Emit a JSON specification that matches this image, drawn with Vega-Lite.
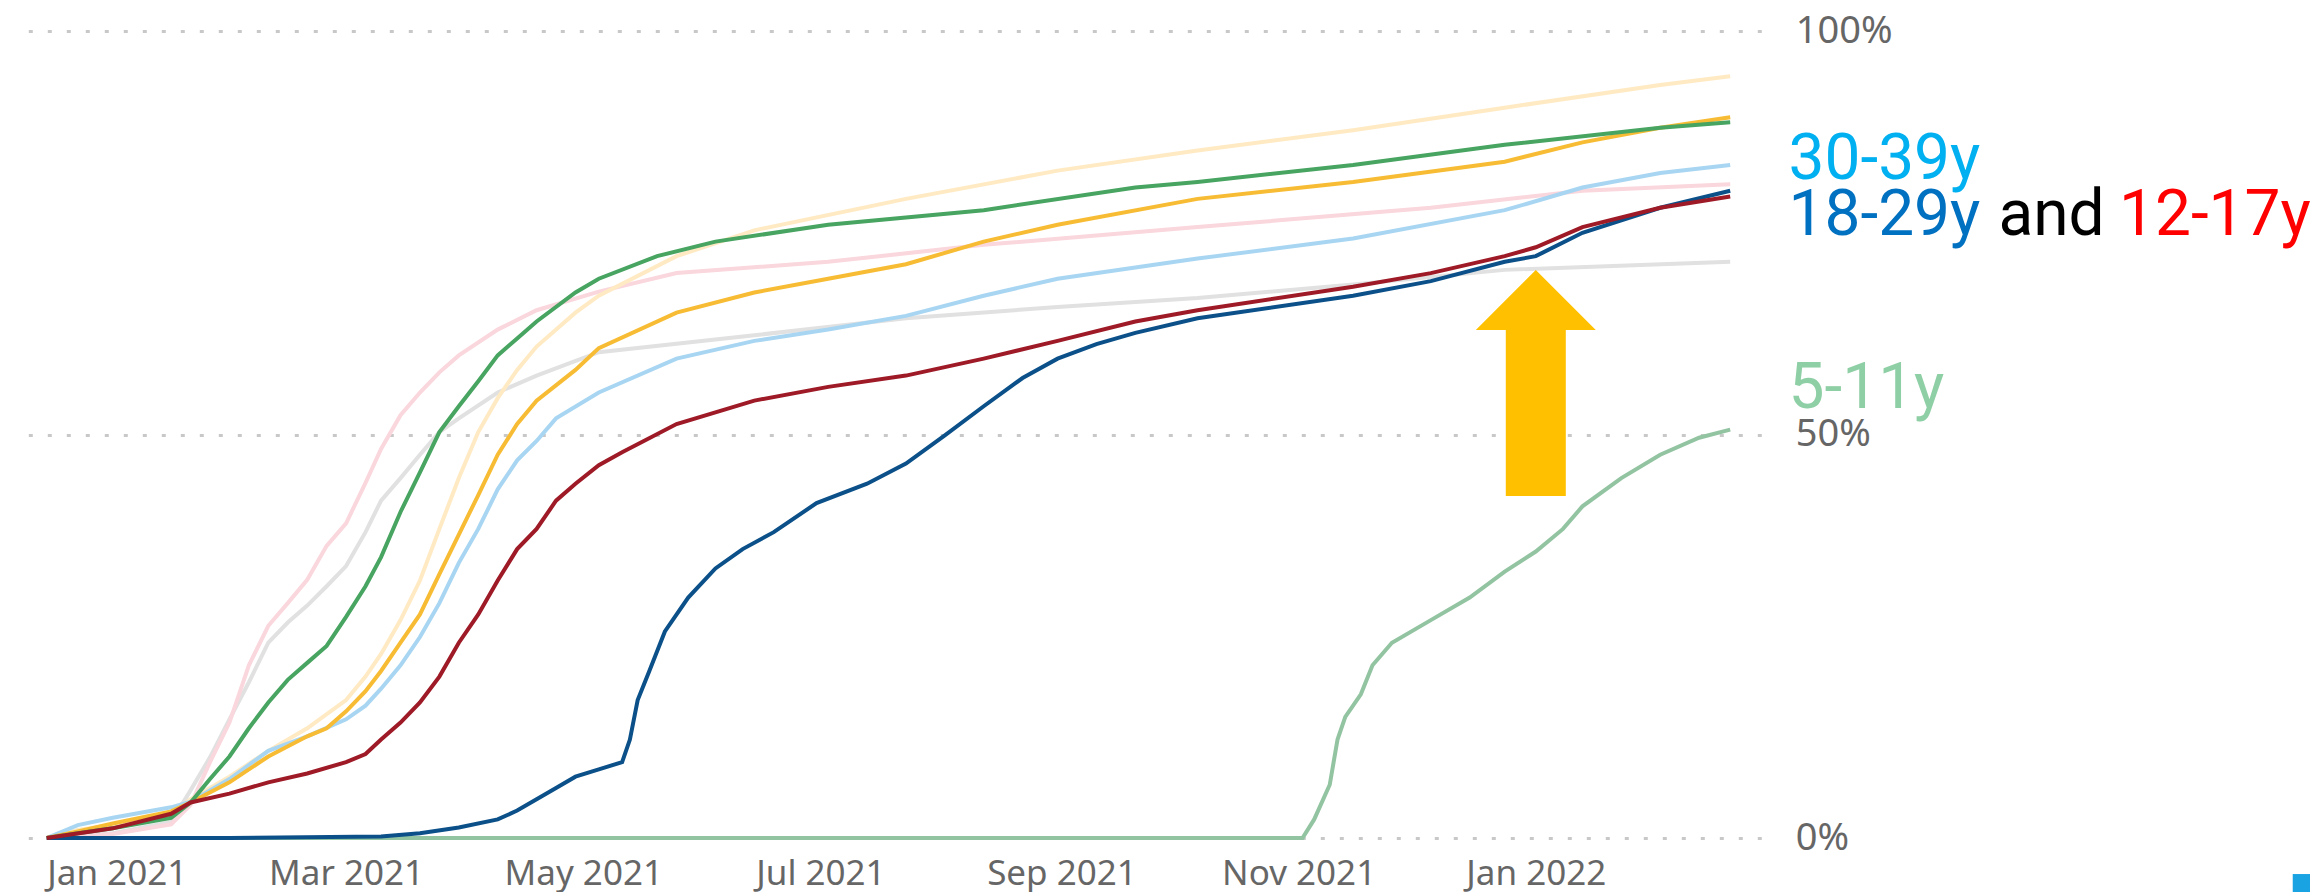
{
  "$schema": "https://vega.github.io/schema/vega-lite/v6.json",
  "autosize": {"type": "none"},
  "width": 1745.7,
  "height": 807,
  "padding": {"left": 15.6, "top": 31, "right": 548.7, "bottom": 54},
  "background": "white",
  "config": {"view": {"stroke": null}, "font": "Noto Sans"},
  "resolve": {"scale": {"color": "independent"}},
  "layer": [
    {
      "data": {"values": [
        {"group": "5-11y", "date": "2020-12-14", "share": 0},
        {"group": "5-11y", "date": "2021-11-02", "share": 0},
        {"group": "5-11y", "date": "2021-11-05", "share": 0.023},
        {"group": "5-11y", "date": "2021-11-09", "share": 0.066},
        {"group": "5-11y", "date": "2021-11-11", "share": 0.122},
        {"group": "5-11y", "date": "2021-11-13", "share": 0.15},
        {"group": "5-11y", "date": "2021-11-17", "share": 0.178},
        {"group": "5-11y", "date": "2021-11-20", "share": 0.214},
        {"group": "5-11y", "date": "2021-11-25", "share": 0.242},
        {"group": "5-11y", "date": "2021-12-05", "share": 0.27},
        {"group": "5-11y", "date": "2021-12-15", "share": 0.298},
        {"group": "5-11y", "date": "2021-12-24", "share": 0.33},
        {"group": "5-11y", "date": "2022-01-01", "share": 0.355},
        {"group": "5-11y", "date": "2022-01-08", "share": 0.383},
        {"group": "5-11y", "date": "2022-01-13", "share": 0.411},
        {"group": "5-11y", "date": "2022-01-23", "share": 0.446},
        {"group": "5-11y", "date": "2022-02-02", "share": 0.475},
        {"group": "5-11y", "date": "2022-02-12", "share": 0.496},
        {"group": "5-11y", "date": "2022-02-20", "share": 0.506},

        {"group": "85+y", "date": "2020-12-14", "share": 0},
        {"group": "85+y", "date": "2020-12-31", "share": 0.006},
        {"group": "85+y", "date": "2021-01-15", "share": 0.02},
        {"group": "85+y", "date": "2021-01-20", "share": 0.059},
        {"group": "85+y", "date": "2021-01-25", "share": 0.1},
        {"group": "85+y", "date": "2021-01-30", "share": 0.147},
        {"group": "85+y", "date": "2021-02-04", "share": 0.193},
        {"group": "85+y", "date": "2021-02-09", "share": 0.242},
        {"group": "85+y", "date": "2021-02-14", "share": 0.267},
        {"group": "85+y", "date": "2021-02-19", "share": 0.288},
        {"group": "85+y", "date": "2021-02-24", "share": 0.312},
        {"group": "85+y", "date": "2021-03-01", "share": 0.337},
        {"group": "85+y", "date": "2021-03-06", "share": 0.379},
        {"group": "85+y", "date": "2021-03-10", "share": 0.418},
        {"group": "85+y", "date": "2021-03-15", "share": 0.446},
        {"group": "85+y", "date": "2021-03-20", "share": 0.475},
        {"group": "85+y", "date": "2021-03-25", "share": 0.503},
        {"group": "85+y", "date": "2021-03-30", "share": 0.52},
        {"group": "85+y", "date": "2021-04-09", "share": 0.552},
        {"group": "85+y", "date": "2021-04-19", "share": 0.573},
        {"group": "85+y", "date": "2021-05-05", "share": 0.602},
        {"group": "85+y", "date": "2021-06-14", "share": 0.623},
        {"group": "85+y", "date": "2021-07-23", "share": 0.644},
        {"group": "85+y", "date": "2021-08-31", "share": 0.658},
        {"group": "85+y", "date": "2021-10-06", "share": 0.669},
        {"group": "85+y", "date": "2021-11-15", "share": 0.686},
        {"group": "85+y", "date": "2021-12-24", "share": 0.704},
        {"group": "85+y", "date": "2022-02-20", "share": 0.714},

        {"group": "75-84y", "date": "2020-12-14", "share": 0},
        {"group": "75-84y", "date": "2020-12-31", "share": 0.005},
        {"group": "75-84y", "date": "2021-01-15", "share": 0.017},
        {"group": "75-84y", "date": "2021-01-20", "share": 0.041},
        {"group": "75-84y", "date": "2021-01-25", "share": 0.094},
        {"group": "75-84y", "date": "2021-01-30", "share": 0.143},
        {"group": "75-84y", "date": "2021-02-04", "share": 0.214},
        {"group": "75-84y", "date": "2021-02-09", "share": 0.263},
        {"group": "75-84y", "date": "2021-02-14", "share": 0.291},
        {"group": "75-84y", "date": "2021-02-19", "share": 0.32},
        {"group": "75-84y", "date": "2021-02-24", "share": 0.362},
        {"group": "75-84y", "date": "2021-03-01", "share": 0.39},
        {"group": "75-84y", "date": "2021-03-06", "share": 0.44},
        {"group": "75-84y", "date": "2021-03-10", "share": 0.482},
        {"group": "75-84y", "date": "2021-03-15", "share": 0.524},
        {"group": "75-84y", "date": "2021-03-20", "share": 0.552},
        {"group": "75-84y", "date": "2021-03-25", "share": 0.577},
        {"group": "75-84y", "date": "2021-03-30", "share": 0.598},
        {"group": "75-84y", "date": "2021-04-09", "share": 0.63},
        {"group": "75-84y", "date": "2021-04-19", "share": 0.654},
        {"group": "75-84y", "date": "2021-05-05", "share": 0.677},
        {"group": "75-84y", "date": "2021-05-25", "share": 0.7},
        {"group": "75-84y", "date": "2021-07-03", "share": 0.714},
        {"group": "75-84y", "date": "2021-08-12", "share": 0.735},
        {"group": "75-84y", "date": "2021-10-06", "share": 0.757},
        {"group": "75-84y", "date": "2021-12-05", "share": 0.781},
        {"group": "75-84y", "date": "2022-01-13", "share": 0.802},
        {"group": "75-84y", "date": "2022-02-20", "share": 0.81},

        {"group": "65-74y", "date": "2020-12-14", "share": 0},
        {"group": "65-74y", "date": "2020-12-22", "share": 0.01},
        {"group": "65-74y", "date": "2020-12-31", "share": 0.016},
        {"group": "65-74y", "date": "2021-01-15", "share": 0.03},
        {"group": "65-74y", "date": "2021-01-20", "share": 0.048},
        {"group": "65-74y", "date": "2021-01-30", "share": 0.076},
        {"group": "65-74y", "date": "2021-02-09", "share": 0.108},
        {"group": "65-74y", "date": "2021-02-19", "share": 0.136},
        {"group": "65-74y", "date": "2021-03-01", "share": 0.171},
        {"group": "65-74y", "date": "2021-03-06", "share": 0.2},
        {"group": "65-74y", "date": "2021-03-10", "share": 0.228},
        {"group": "65-74y", "date": "2021-03-15", "share": 0.27},
        {"group": "65-74y", "date": "2021-03-20", "share": 0.319},
        {"group": "65-74y", "date": "2021-03-25", "share": 0.383},
        {"group": "65-74y", "date": "2021-03-30", "share": 0.446},
        {"group": "65-74y", "date": "2021-04-04", "share": 0.503},
        {"group": "65-74y", "date": "2021-04-09", "share": 0.545},
        {"group": "65-74y", "date": "2021-04-14", "share": 0.58},
        {"group": "65-74y", "date": "2021-04-19", "share": 0.609},
        {"group": "65-74y", "date": "2021-04-29", "share": 0.651},
        {"group": "65-74y", "date": "2021-05-05", "share": 0.672},
        {"group": "65-74y", "date": "2021-05-25", "share": 0.721},
        {"group": "65-74y", "date": "2021-06-14", "share": 0.753},
        {"group": "65-74y", "date": "2021-07-23", "share": 0.792},
        {"group": "65-74y", "date": "2021-08-31", "share": 0.827},
        {"group": "65-74y", "date": "2021-10-06", "share": 0.852},
        {"group": "65-74y", "date": "2021-11-15", "share": 0.877},
        {"group": "65-74y", "date": "2021-12-24", "share": 0.905},
        {"group": "65-74y", "date": "2022-02-02", "share": 0.933},
        {"group": "65-74y", "date": "2022-02-20", "share": 0.944},

        {"group": "30-39y", "date": "2020-12-14", "share": 0},
        {"group": "30-39y", "date": "2020-12-22", "share": 0.016},
        {"group": "30-39y", "date": "2020-12-31", "share": 0.025},
        {"group": "30-39y", "date": "2021-01-15", "share": 0.038},
        {"group": "30-39y", "date": "2021-01-20", "share": 0.045},
        {"group": "30-39y", "date": "2021-01-30", "share": 0.073},
        {"group": "30-39y", "date": "2021-02-09", "share": 0.108},
        {"group": "30-39y", "date": "2021-02-19", "share": 0.126},
        {"group": "30-39y", "date": "2021-03-01", "share": 0.147},
        {"group": "30-39y", "date": "2021-03-06", "share": 0.164},
        {"group": "30-39y", "date": "2021-03-10", "share": 0.185},
        {"group": "30-39y", "date": "2021-03-15", "share": 0.214},
        {"group": "30-39y", "date": "2021-03-20", "share": 0.249},
        {"group": "30-39y", "date": "2021-03-25", "share": 0.291},
        {"group": "30-39y", "date": "2021-03-30", "share": 0.341},
        {"group": "30-39y", "date": "2021-04-04", "share": 0.383},
        {"group": "30-39y", "date": "2021-04-09", "share": 0.432},
        {"group": "30-39y", "date": "2021-04-14", "share": 0.468},
        {"group": "30-39y", "date": "2021-04-19", "share": 0.492},
        {"group": "30-39y", "date": "2021-04-24", "share": 0.52},
        {"group": "30-39y", "date": "2021-05-05", "share": 0.552},
        {"group": "30-39y", "date": "2021-05-25", "share": 0.594},
        {"group": "30-39y", "date": "2021-06-14", "share": 0.616},
        {"group": "30-39y", "date": "2021-07-03", "share": 0.63},
        {"group": "30-39y", "date": "2021-07-23", "share": 0.647},
        {"group": "30-39y", "date": "2021-08-12", "share": 0.672},
        {"group": "30-39y", "date": "2021-08-31", "share": 0.693},
        {"group": "30-39y", "date": "2021-10-06", "share": 0.718},
        {"group": "30-39y", "date": "2021-11-15", "share": 0.743},
        {"group": "30-39y", "date": "2021-12-24", "share": 0.778},
        {"group": "30-39y", "date": "2022-01-13", "share": 0.806},
        {"group": "30-39y", "date": "2022-02-02", "share": 0.824},
        {"group": "30-39y", "date": "2022-02-20", "share": 0.834},

        {"group": "40-49y", "date": "2020-12-14", "share": 0},
        {"group": "40-49y", "date": "2020-12-22", "share": 0.008},
        {"group": "40-49y", "date": "2020-12-31", "share": 0.018},
        {"group": "40-49y", "date": "2021-01-15", "share": 0.033},
        {"group": "40-49y", "date": "2021-01-20", "share": 0.044},
        {"group": "40-49y", "date": "2021-01-30", "share": 0.069},
        {"group": "40-49y", "date": "2021-02-09", "share": 0.101},
        {"group": "40-49y", "date": "2021-02-19", "share": 0.126},
        {"group": "40-49y", "date": "2021-02-24", "share": 0.136},
        {"group": "40-49y", "date": "2021-03-01", "share": 0.157},
        {"group": "40-49y", "date": "2021-03-06", "share": 0.182},
        {"group": "40-49y", "date": "2021-03-10", "share": 0.207},
        {"group": "40-49y", "date": "2021-03-15", "share": 0.242},
        {"group": "40-49y", "date": "2021-03-20", "share": 0.277},
        {"group": "40-49y", "date": "2021-03-25", "share": 0.327},
        {"group": "40-49y", "date": "2021-03-30", "share": 0.376},
        {"group": "40-49y", "date": "2021-04-04", "share": 0.425},
        {"group": "40-49y", "date": "2021-04-09", "share": 0.475},
        {"group": "40-49y", "date": "2021-04-14", "share": 0.513},
        {"group": "40-49y", "date": "2021-04-19", "share": 0.542},
        {"group": "40-49y", "date": "2021-04-29", "share": 0.58},
        {"group": "40-49y", "date": "2021-05-05", "share": 0.607},
        {"group": "40-49y", "date": "2021-05-25", "share": 0.651},
        {"group": "40-49y", "date": "2021-06-14", "share": 0.676},
        {"group": "40-49y", "date": "2021-07-03", "share": 0.693},
        {"group": "40-49y", "date": "2021-07-23", "share": 0.711},
        {"group": "40-49y", "date": "2021-08-12", "share": 0.739},
        {"group": "40-49y", "date": "2021-08-31", "share": 0.76},
        {"group": "40-49y", "date": "2021-10-06", "share": 0.792},
        {"group": "40-49y", "date": "2021-11-15", "share": 0.813},
        {"group": "40-49y", "date": "2021-12-24", "share": 0.838},
        {"group": "40-49y", "date": "2022-01-13", "share": 0.862},
        {"group": "40-49y", "date": "2022-02-02", "share": 0.88},
        {"group": "40-49y", "date": "2022-02-20", "share": 0.893},

        {"group": "50-64y", "date": "2020-12-14", "share": 0},
        {"group": "50-64y", "date": "2020-12-22", "share": 0.006},
        {"group": "50-64y", "date": "2020-12-31", "share": 0.012},
        {"group": "50-64y", "date": "2021-01-15", "share": 0.025},
        {"group": "50-64y", "date": "2021-01-20", "share": 0.044},
        {"group": "50-64y", "date": "2021-01-25", "share": 0.073},
        {"group": "50-64y", "date": "2021-01-30", "share": 0.101},
        {"group": "50-64y", "date": "2021-02-04", "share": 0.136},
        {"group": "50-64y", "date": "2021-02-09", "share": 0.168},
        {"group": "50-64y", "date": "2021-02-14", "share": 0.196},
        {"group": "50-64y", "date": "2021-02-19", "share": 0.217},
        {"group": "50-64y", "date": "2021-02-24", "share": 0.238},
        {"group": "50-64y", "date": "2021-03-01", "share": 0.274},
        {"group": "50-64y", "date": "2021-03-06", "share": 0.312},
        {"group": "50-64y", "date": "2021-03-10", "share": 0.348},
        {"group": "50-64y", "date": "2021-03-15", "share": 0.404},
        {"group": "50-64y", "date": "2021-03-20", "share": 0.453},
        {"group": "50-64y", "date": "2021-03-25", "share": 0.503},
        {"group": "50-64y", "date": "2021-03-30", "share": 0.535},
        {"group": "50-64y", "date": "2021-04-04", "share": 0.566},
        {"group": "50-64y", "date": "2021-04-09", "share": 0.598},
        {"group": "50-64y", "date": "2021-04-14", "share": 0.619},
        {"group": "50-64y", "date": "2021-04-19", "share": 0.64},
        {"group": "50-64y", "date": "2021-04-29", "share": 0.676},
        {"group": "50-64y", "date": "2021-05-05", "share": 0.693},
        {"group": "50-64y", "date": "2021-05-20", "share": 0.721},
        {"group": "50-64y", "date": "2021-06-04", "share": 0.739},
        {"group": "50-64y", "date": "2021-07-03", "share": 0.76},
        {"group": "50-64y", "date": "2021-08-12", "share": 0.778},
        {"group": "50-64y", "date": "2021-09-20", "share": 0.806},
        {"group": "50-64y", "date": "2021-10-06", "share": 0.813},
        {"group": "50-64y", "date": "2021-11-15", "share": 0.834},
        {"group": "50-64y", "date": "2021-12-24", "share": 0.859},
        {"group": "50-64y", "date": "2022-02-02", "share": 0.88},
        {"group": "50-64y", "date": "2022-02-20", "share": 0.887},

        {"group": "12-17y", "date": "2020-12-14", "share": 0},
        {"group": "12-17y", "date": "2021-01-30", "share": 0},
        {"group": "12-17y", "date": "2021-03-10", "share": 0.002},
        {"group": "12-17y", "date": "2021-03-20", "share": 0.006},
        {"group": "12-17y", "date": "2021-03-30", "share": 0.013},
        {"group": "12-17y", "date": "2021-04-09", "share": 0.023},
        {"group": "12-17y", "date": "2021-04-14", "share": 0.034},
        {"group": "12-17y", "date": "2021-04-19", "share": 0.048},
        {"group": "12-17y", "date": "2021-04-24", "share": 0.062},
        {"group": "12-17y", "date": "2021-04-29", "share": 0.076},
        {"group": "12-17y", "date": "2021-05-05", "share": 0.085},
        {"group": "12-17y", "date": "2021-05-11", "share": 0.094},
        {"group": "12-17y", "date": "2021-05-13", "share": 0.122},
        {"group": "12-17y", "date": "2021-05-15", "share": 0.171},
        {"group": "12-17y", "date": "2021-05-18", "share": 0.207},
        {"group": "12-17y", "date": "2021-05-22", "share": 0.256},
        {"group": "12-17y", "date": "2021-05-28", "share": 0.298},
        {"group": "12-17y", "date": "2021-06-04", "share": 0.334},
        {"group": "12-17y", "date": "2021-06-11", "share": 0.358},
        {"group": "12-17y", "date": "2021-06-19", "share": 0.379},
        {"group": "12-17y", "date": "2021-06-30", "share": 0.415},
        {"group": "12-17y", "date": "2021-07-13", "share": 0.439},
        {"group": "12-17y", "date": "2021-07-23", "share": 0.464},
        {"group": "12-17y", "date": "2021-08-02", "share": 0.499},
        {"group": "12-17y", "date": "2021-08-12", "share": 0.535},
        {"group": "12-17y", "date": "2021-08-22", "share": 0.57},
        {"group": "12-17y", "date": "2021-08-31", "share": 0.594},
        {"group": "12-17y", "date": "2021-09-10", "share": 0.612},
        {"group": "12-17y", "date": "2021-09-20", "share": 0.626},
        {"group": "12-17y", "date": "2021-10-06", "share": 0.644},
        {"group": "12-17y", "date": "2021-11-15", "share": 0.672},
        {"group": "12-17y", "date": "2021-12-05", "share": 0.69},
        {"group": "12-17y", "date": "2021-12-24", "share": 0.714},
        {"group": "12-17y", "date": "2022-01-01", "share": 0.721},
        {"group": "12-17y", "date": "2022-01-13", "share": 0.75},
        {"group": "12-17y", "date": "2022-02-02", "share": 0.781},
        {"group": "12-17y", "date": "2022-02-20", "share": 0.802},

        {"group": "18-29y", "date": "2020-12-14", "share": 0},
        {"group": "18-29y", "date": "2020-12-31", "share": 0.012},
        {"group": "18-29y", "date": "2021-01-15", "share": 0.03},
        {"group": "18-29y", "date": "2021-01-20", "share": 0.044},
        {"group": "18-29y", "date": "2021-01-30", "share": 0.055},
        {"group": "18-29y", "date": "2021-02-09", "share": 0.069},
        {"group": "18-29y", "date": "2021-02-19", "share": 0.08},
        {"group": "18-29y", "date": "2021-03-01", "share": 0.094},
        {"group": "18-29y", "date": "2021-03-06", "share": 0.104},
        {"group": "18-29y", "date": "2021-03-10", "share": 0.122},
        {"group": "18-29y", "date": "2021-03-15", "share": 0.143},
        {"group": "18-29y", "date": "2021-03-20", "share": 0.168},
        {"group": "18-29y", "date": "2021-03-25", "share": 0.2},
        {"group": "18-29y", "date": "2021-03-30", "share": 0.242},
        {"group": "18-29y", "date": "2021-04-04", "share": 0.277},
        {"group": "18-29y", "date": "2021-04-09", "share": 0.319},
        {"group": "18-29y", "date": "2021-04-14", "share": 0.358},
        {"group": "18-29y", "date": "2021-04-19", "share": 0.383},
        {"group": "18-29y", "date": "2021-04-24", "share": 0.418},
        {"group": "18-29y", "date": "2021-04-29", "share": 0.439},
        {"group": "18-29y", "date": "2021-05-05", "share": 0.462},
        {"group": "18-29y", "date": "2021-05-11", "share": 0.478},
        {"group": "18-29y", "date": "2021-05-25", "share": 0.513},
        {"group": "18-29y", "date": "2021-06-14", "share": 0.542},
        {"group": "18-29y", "date": "2021-07-03", "share": 0.559},
        {"group": "18-29y", "date": "2021-07-23", "share": 0.573},
        {"group": "18-29y", "date": "2021-08-12", "share": 0.594},
        {"group": "18-29y", "date": "2021-08-31", "share": 0.616},
        {"group": "18-29y", "date": "2021-09-20", "share": 0.64},
        {"group": "18-29y", "date": "2021-10-06", "share": 0.654},
        {"group": "18-29y", "date": "2021-11-15", "share": 0.683},
        {"group": "18-29y", "date": "2021-12-05", "share": 0.7},
        {"group": "18-29y", "date": "2021-12-24", "share": 0.721},
        {"group": "18-29y", "date": "2022-01-01", "share": 0.732},
        {"group": "18-29y", "date": "2022-01-13", "share": 0.757},
        {"group": "18-29y", "date": "2022-02-02", "share": 0.781},
        {"group": "18-29y", "date": "2022-02-20", "share": 0.795}
      ]},
      "mark": {"type": "line", "strokeWidth": 4, "interpolate": "linear"},
      "encoding": {
        "x": {
          "field": "date", "type": "temporal",
          "scale": {"type": "utc", "domain": [1607212800000, 1646006400000]},
          "axis": {
            "values": [1609459200000, 1614556800000, 1619827200000, 1625097600000, 1630454400000, 1635724800000, 1640995200000],
            "labelExpr": "utcFormat(datum.value, '%b %Y')",
            "title": null, "domain": false, "ticks": false, "grid": false,
            "labelFont": "Noto Sans", "labelFontSize": 35, "labelColor": "#666666",
            "labelPadding": 18, "labelFlush": false, "labelOverlap": false
          }
        },
        "y": {
          "field": "share", "type": "quantitative",
          "scale": {"domain": [0, 1], "nice": false, "zero": false},
          "axis": {
            "orient": "right", "values": [0, 0.5, 1], "format": ".0%",
            "title": null, "domain": false, "ticks": false, "grid": true,
            "gridColor": "#C8C8C8", "gridDash": [4, 15], "gridWidth": 3,
            "labelFont": "Noto Sans", "labelFontSize": 38, "labelColor": "#666666",
            "labelPadding": 34
          }
        },
        "color": {
          "field": "group", "type": "nominal", "legend": null,
          "scale": {
            "domain": ["5-11y", "85+y", "75-84y", "65-74y", "30-39y", "40-49y", "50-64y", "12-17y", "18-29y"],
            "range": ["#93C4A2", "#E1E1E1", "#FAD6DD", "#FFEAC4", "#A8D6F2", "#F7BC34", "#47A461", "#0B5089", "#9E1A26"]
          }
        }
      }
    },
    {
      "data": {"values": [
        {"label": "30-39y", "date": "2022-03-07", "share": 0.8166},
        {"label": "18-29y", "date": "2022-03-07", "share": 0.7472},
        {"label": "and", "date": "2022-04-30", "share": 0.7472},
        {"label": "12-17y", "date": "2022-05-31", "share": 0.7472},
        {"label": "5-11y", "date": "2022-03-07", "share": 0.5328}
      ]},
      "mark": {"type": "text", "font": "Roboto", "fontSize": 64, "align": "left", "baseline": "alphabetic"},
      "encoding": {
        "x": {"field": "date", "type": "temporal"},
        "y": {"field": "share", "type": "quantitative"},
        "text": {"field": "label"},
        "color": {
          "field": "label", "type": "nominal", "legend": null,
          "scale": {
            "domain": ["30-39y", "18-29y", "and", "12-17y", "5-11y"],
            "range": ["#00B0F0", "#0070C0", "#000000", "#FF0000", "#8FCFA5"]
          }
        }
      }
    },
    {
      "data": {"values": [{"date": "2022-01-01", "share": 0.5638}]},
      "mark": {
        "type": "point",
        "shape": "M0,-1.883L1,-0.883L0.5,-0.883L0.5,1.883L-0.5,1.883L-0.5,-0.883L-1,-0.883Z",
        "size": 14400, "filled": true, "fill": "#FFC000", "opacity": 1, "strokeWidth": 0
      },
      "encoding": {
        "x": {"field": "date", "type": "temporal"},
        "y": {"field": "share", "type": "quantitative"}
      }
    },
    {
      "data": {"values": [{"date": "2022-07-17", "share": -0.0558}]},
      "mark": {"type": "square", "size": 324, "filled": true, "color": "#1AA3E3", "opacity": 1},
      "encoding": {
        "x": {"field": "date", "type": "temporal"},
        "y": {"field": "share", "type": "quantitative"}
      }
    }
  ]
}
